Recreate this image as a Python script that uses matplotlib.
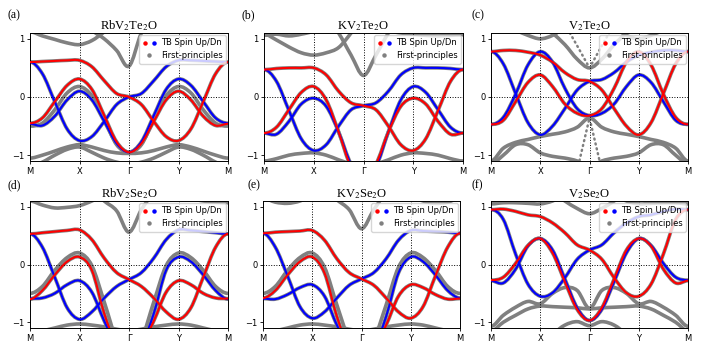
import numpy as np
import matplotlib
matplotlib.use('Agg')
import matplotlib.pyplot as plt
from matplotlib.lines import Line2D
from matplotlib.legend_handler import HandlerTuple
from matplotlib.path import Path
from matplotlib.patches import PathPatch

plt.rcParams['mathtext.fontset'] = 'stix'

# k path M-X-G-Y-M, sampled at quarter segments
k = np.linspace(0, 4, 17)
kticks = [0, 1, 2, 3, 4]
klabels = ['M', 'X', 'Γ', 'Y', 'M']
nan = np.nan
off = 2.0  # outside the window

# ---- (a) RbV2Te2O ----
a_up1 = [0.60, 0.61, 0.62, 0.63, 0.63, 0.52, 0.28, 0.06, 0.00, -0.13, -0.42, -0.68, -0.75, -0.55, -0.08, 0.40, 0.60]
a_dn1 = [0.60, 0.40, -0.08, -0.55, -0.75, -0.68, -0.42, -0.13, 0.00, 0.06, 0.28, 0.52, 0.63, 0.63, 0.62, 0.61, 0.60]
a_up2 = [-0.45, -0.36, -0.08, 0.20, 0.31, 0.13, -0.32, -0.77, -0.95, -0.80, -0.42, -0.05, 0.10, -0.05, -0.33, -0.49, -0.46]
a_dn2 = [-0.46, -0.49, -0.33, -0.05, 0.10, -0.05, -0.42, -0.80, -0.95, -0.77, -0.32, 0.13, 0.31, 0.20, -0.08, -0.36, -0.45]
a_fp1 = [1.12, 1.05, 0.99, 0.93, 0.90, 0.97, 1.12, 1.30, 1.40, 1.40, 1.40, 1.40, 1.40, 1.40, 1.40, 1.40, 1.40]
a_fp2 = [off, off, off, off, 1.40, 1.15, 1.00, 0.80, 0.53, 1.10, 1.40, off, off, off, off, off, off]
a_fp3 = [-1.05, -1.00, -0.93, -0.86, -0.82, -0.86, -0.92, -0.96, -0.97, -0.96, -0.92, -0.86, -0.82, -0.86, -0.93, -1.00, -1.05]
a_fp4 = [-1.20, -1.12, -1.00, -0.90, -0.86, -0.95, -1.05, -1.12, -1.15, -1.12, -1.05, -0.95, -0.86, -0.90, -1.00, -1.12, -1.20]
a_fp5 = [-0.50, -0.45, -0.22, 0.07, 0.18, 0.02, -0.38, -0.82, -0.95, -0.82, -0.38, 0.02, 0.18, 0.07, -0.22, -0.45, -0.50]

# ---- (b) KV2Te2O ----
b_up1 = [0.47, 0.49, 0.50, 0.50, 0.50, 0.38, 0.10, -0.10, -0.15, -0.22, -0.50, -0.82, -0.92, -0.72, -0.23, 0.27, 0.47]
b_dn1 = [0.47, 0.27, -0.23, -0.72, -0.92, -0.82, -0.50, -0.22, -0.15, -0.10, 0.10, 0.38, 0.50, 0.50, 0.50, 0.49, 0.47]
b_up2 = [-0.62, -0.52, -0.22, 0.08, 0.18, -0.05, -0.60, -1.20, -1.35, -1.15, -0.60, -0.16, -0.02, -0.12, -0.42, -0.64, -0.62]
b_dn2 = [-0.62, -0.64, -0.42, -0.12, -0.02, -0.16, -0.60, -1.15, -1.35, -1.20, -0.60, -0.05, 0.18, 0.08, -0.22, -0.52, -0.62]
b_fp1 = [1.06, 1.08, 1.05, 1.08, 1.15, 1.40, off, off, off, off, off, off, off, off, off, off, off]
b_fp2 = [1.08, 0.98, 0.86, 0.76, 0.72, 0.76, 0.85, 1.10, 1.40, off, off, off, off, off, off, off, off]
b_fp3 = [off, off, off, off, 1.60, 1.40, 1.10, 0.72, 0.37, 0.72, 1.10, 1.40, 1.60, off, off, off, off]
b_fp4 = [off, off, off, off, off, off, off, off, 1.50, 1.30, 1.15, 1.10, 1.08, 1.06, 1.05, 1.06, 1.07]
b_fp5 = [-1.10, -1.06, -1.00, -0.97, -0.96, -1.00, -1.08, -1.15, -1.20, -1.15, -1.08, -1.00, -0.96, -0.97, -1.00, -1.06, -1.10]

# ---- (c) V2Te2O ----
c_up1 = [0.78, 0.80, 0.80, 0.77, 0.72, 0.60, 0.42, 0.30, 0.27, 0.12, -0.20, -0.50, -0.65, -0.44, 0.06, 0.57, 0.78]
c_dn1 = [0.78, 0.57, 0.06, -0.44, -0.65, -0.50, -0.20, 0.12, 0.27, 0.30, 0.42, 0.60, 0.72, 0.77, 0.80, 0.80, 0.78]
c_up2 = [-0.47, -0.40, -0.08, 0.25, 0.38, 0.18, -0.12, -0.28, -0.32, -0.20, 0.15, 0.60, 0.78, 0.55, 0.05, -0.35, -0.47]
c_dn2 = [-0.47, -0.35, 0.05, 0.55, 0.78, 0.60, 0.15, -0.20, -0.32, -0.28, -0.12, 0.18, 0.38, 0.25, -0.08, -0.40, -0.47]
c_fp1 = [1.30, 1.25, 1.15, 1.06, 1.00, 1.06, 1.20, 1.35, 1.50, 1.35, 1.20, 1.06, 1.00, 1.06, 1.15, 1.25, 1.30]
c_fp2 = [off, off, off, off, 1.30, 1.10, 0.90, 0.65, 0.50, 0.65, 0.90, 1.10, 1.30, off, off, off, off]
c_fp3 = [-1.10, -0.88, -0.78, -0.73, -0.68, -0.64, -0.60, -0.52, -0.36, -0.52, -0.60, -0.64, -0.68, -0.73, -0.78, -0.88, -1.10]
c_fp4 = [-1.15, -1.00, -0.82, -0.82, -0.96, -1.02, -1.05, -1.10, -1.20, -1.10, -1.05, -1.02, -0.96, -0.82, -0.82, -1.00, -1.15]
c_dot1 = [nan, nan, nan, nan, nan, nan, 1.25, 0.88, 0.50, 0.88, 1.25, nan, nan, nan, nan, nan, nan]
c_dot2 = [nan, nan, nan, nan, nan, nan, nan, -1.26, -0.36, -1.26, nan, nan, nan, nan, nan, nan, nan]

# ---- (d) RbV2Se2O ----
d_up1 = [0.53, 0.55, 0.57, 0.59, 0.60, 0.43, 0.11, -0.14, -0.26, -0.38, -0.58, -0.82, -0.95, -0.75, -0.22, 0.30, 0.53]
d_dn1 = [0.53, 0.30, -0.22, -0.75, -0.95, -0.82, -0.58, -0.38, -0.26, -0.14, 0.11, 0.43, 0.60, 0.59, 0.57, 0.55, 0.53]
d_up2 = [-0.60, -0.45, -0.18, 0.05, 0.13, -0.10, -0.85, -1.40, -1.60, -1.40, -0.98, -0.48, -0.28, -0.35, -0.50, -0.58, -0.59]
d_dn2 = [-0.59, -0.58, -0.50, -0.35, -0.28, -0.48, -0.98, -1.40, -1.60, -1.40, -0.85, -0.10, 0.13, 0.05, -0.18, -0.45, -0.60]
d_fp1 = [1.10, 1.03, 0.98, 0.99, 1.02, 1.10, 1.20, 1.30, 1.40, 1.40, 1.35, 1.30, 1.25, 1.15, 1.10, 1.08, 1.07]
d_fp2 = [off, off, off, off, 1.50, 1.30, 1.10, 0.93, 0.56, 0.95, 1.25, 1.50, off, off, off, off, off]
d_fp3 = [-1.20, -1.15, -1.10, -1.05, -1.03, -1.05, -1.08, -1.12, -1.15, -1.12, -1.08, -1.05, -1.03, -1.05, -1.10, -1.15, -1.20]
d_fp4 = [-0.50, -0.38, -0.10, 0.12, 0.20, -0.02, -0.65, -1.30, -1.50, -1.30, -0.65, -0.02, 0.20, 0.12, -0.10, -0.38, -0.50]

# ---- (e) KV2Se2O ----
e_up1 = [0.54, 0.56, 0.57, 0.58, 0.59, 0.42, 0.10, -0.14, -0.25, -0.36, -0.58, -0.82, -0.93, -0.73, -0.20, 0.30, 0.54]
e_dn1 = [0.54, 0.30, -0.20, -0.73, -0.93, -0.82, -0.58, -0.36, -0.25, -0.14, 0.10, 0.42, 0.59, 0.58, 0.57, 0.56, 0.54]
e_up2 = [-0.58, -0.45, -0.18, 0.05, 0.13, -0.15, -0.90, -1.45, -1.60, -1.45, -1.05, -0.55, -0.35, -0.40, -0.52, -0.60, -0.59]
e_dn2 = [-0.59, -0.60, -0.52, -0.40, -0.35, -0.55, -1.05, -1.45, -1.60, -1.45, -0.90, -0.15, 0.13, 0.05, -0.18, -0.45, -0.58]
e_fp1 = [1.15, 1.08, 1.06, 1.10, 1.20, 1.30, 1.40, 1.50, 1.60, 1.50, 1.40, 1.30, 1.20, 1.10, 1.06, 1.08, 1.15]
e_fp2 = [off, off, off, off, 1.50, 1.30, 1.12, 0.95, 0.62, 0.95, 1.25, 1.50, off, off, off, off, off]
e_fp3 = [-1.20, -1.15, -1.10, -1.05, -1.03, -1.05, -1.08, -1.12, -1.15, -1.12, -1.08, -1.05, -1.03, -1.05, -1.10, -1.15, -1.20]
e_fp4 = [-0.50, -0.38, -0.10, 0.12, 0.20, -0.05, -0.70, -1.30, -1.50, -1.30, -0.70, -0.05, 0.20, 0.12, -0.10, -0.38, -0.50]

# ---- (f) V2Se2O ----
f_up1 = [0.95, 0.96, 0.92, 0.86, 0.83, 0.72, 0.55, 0.34, 0.25, 0.09, -0.23, -0.49, -0.55, -0.34, 0.18, 0.78, 0.95]
f_dn1 = [0.95, 0.78, 0.18, -0.34, -0.55, -0.49, -0.23, 0.09, 0.25, 0.34, 0.55, 0.72, 0.83, 0.86, 0.92, 0.96, 0.95]
f_up2 = [-0.27, -0.22, 0.02, 0.33, 0.45, 0.20, -0.30, -0.78, -0.97, -0.75, -0.25, 0.25, 0.45, 0.32, -0.08, -0.32, -0.28]
f_dn2 = [-0.28, -0.32, -0.08, 0.32, 0.45, 0.25, -0.25, -0.75, -0.97, -0.78, -0.30, 0.20, 0.45, 0.33, 0.02, -0.22, -0.27]
f_fp1 = [1.05, 1.07, 1.07, 1.06, 1.05, 1.10, 1.20, 1.30, 1.40, 1.30, 1.20, 1.10, 1.05, 1.06, 1.07, 1.07, 1.05]
f_fp2 = [off, off, off, off, 1.40, 1.25, 1.10, 0.97, 0.88, 0.97, 1.10, 1.25, 1.40, off, off, off, off]
f_fp3 = [-1.07, -0.88, -0.74, -0.64, -0.68, -0.50, -0.40, -0.45, -0.76, -0.45, -0.40, -0.50, -0.68, -0.64, -0.74, -0.88, -1.07]
f_fp4 = [-1.15, -1.00, -0.88, -0.77, -0.72, -0.73, -0.74, -0.75, -0.77, -0.75, -0.74, -0.73, -0.72, -0.77, -0.88, -1.00, -1.15]
f_fp5 = [nan, nan, nan, nan, -1.30, -1.20, -1.05, -0.99, -1.06, -0.99, -1.05, -1.20, -1.30, nan, nan, nan, nan]

panels = [
    ('(a)', 'RbV$_2$Te$_2$O', [a_up1, a_up2], [a_dn1, a_dn2], [a_fp1, a_fp2, a_fp3, a_fp4, a_fp5], []),
    ('(b)', 'KV$_2$Te$_2$O', [b_up1, b_up2], [b_dn1, b_dn2], [b_fp1, b_fp2, b_fp3, b_fp4, b_fp5], []),
    ('(c)', 'V$_2$Te$_2$O', [c_up1, c_up2], [c_dn1, c_dn2], [c_fp1, c_fp2, c_fp3, c_fp4], [c_dot1, c_dot2]),
    ('(d)', 'RbV$_2$Se$_2$O', [d_up1, d_up2], [d_dn1, d_dn2], [d_fp1, d_fp2, d_fp3, d_fp4], []),
    ('(e)', 'KV$_2$Se$_2$O', [e_up1, e_up2], [e_dn1, e_dn2], [e_fp1, e_fp2, e_fp3, e_fp4], []),
    ('(f)', 'V$_2$Se$_2$O', [f_up1, f_up2], [f_dn1, f_dn2], [f_fp1, f_fp2, f_fp3, f_fp4, f_fp5], []),
]

# axes boxes in pixels (left, top, right, bottom) and label spots
W, H = 714, 358
boxes = [(30, 33, 228, 161), (264, 33, 463, 161), (491, 33, 688, 161),
         (30, 201, 228, 328), (263, 201, 460, 328), (491, 201, 688, 328)]
labpos = [(7, 15), (241, 15), (472, 15), (7, 185), (247, 185), (472, 185)]

GRAY = '#808080'
RED = '#ff0000'
BLUE = '#0000ff'


def band_path(x, y):
    # smooth curve through the sampled points (cubic bezier, catmull-rom tangents)
    x = np.asarray(x, float)
    y = np.asarray(y, float)
    idx = np.where(~np.isnan(y))[0]
    runs = np.split(idx, np.where(np.diff(idx) > 1)[0] + 1)
    verts, codes = [], []
    for r in runs:
        if len(r) < 2:
            continue
        px, py = list(x[r]), list(y[r])
        # mirror the neighbours at the ends (flat bands at the zone boundary)
        px = [2 * px[0] - px[1]] + px + [2 * px[-1] - px[-2]]
        py = [py[1]] + py + [py[-2]]
        verts.append((px[1], py[1]))
        codes.append(Path.MOVETO)
        for i in range(1, len(px) - 2):
            c1 = (px[i] + (px[i + 1] - px[i - 1]) / 6, py[i] + (py[i + 1] - py[i - 1]) / 6)
            c2 = (px[i + 1] - (px[i + 2] - px[i]) / 6, py[i + 1] - (py[i + 2] - py[i]) / 6)
            verts += [c1, c2, (px[i + 1], py[i + 1])]
            codes += [Path.CURVE4] * 3
    return Path(verts, codes)


def draw_band(ax, y, color, lw, z):
    ax.add_patch(PathPatch(band_path(k, y), fill=False, edgecolor=color, lw=lw,
                           capstyle='round', joinstyle='round', zorder=z))


fig = plt.figure(figsize=(W / 100, H / 100), dpi=100)

for (lab, title, ups, dns, fps, dots), (x0, y0, x1, y1), (lx, ly) in zip(panels, boxes, labpos):
    ax = fig.add_axes([x0 / W, 1 - y1 / H, (x1 - x0) / W, (y1 - y0) / H])
    # first-principles (gray) under everything
    for g in fps + ups + dns:
        draw_band(ax, g, GRAY, 2.6, 1)
    for g in dots:
        ax.plot(k, g, color=GRAY, lw=1.8, ls=(0, (0.4, 1.6)), dash_capstyle='round', zorder=1)
    for u in dns:
        draw_band(ax, u, BLUE, 1.5, 3)
    for u in ups:
        draw_band(ax, u, RED, 1.5, 3)

    for kk in kticks[1:-1]:
        ax.axvline(kk, color='k', ls=':', lw=0.7, zorder=2)
    ax.axhline(0, color='k', ls=':', lw=0.7, zorder=2)

    ax.set_xlim(0, 4)
    ax.set_ylim(-1.1, 1.1)
    ax.set_xticks(kticks, klabels)
    ax.set_yticks([-1, 0, 1], ['\u22121', '0', '1'])
    ax.tick_params(labelsize=6, length=2.5, width=0.6, pad=1.5)
    for s in ax.spines.values():
        s.set_linewidth(0.7)
    ax.set_title(title, fontsize=9, family='Liberation Serif', pad=3)
    fig.text(lx / W, 1 - ly / H, lab, family='Liberation Serif', fontsize=8.5, va='center')

    hup = Line2D([], [], marker='o', color=RED, ls='none', ms=2.2)
    hdn = Line2D([], [], marker='o', color=BLUE, ls='none', ms=2.2)
    hfp = Line2D([], [], marker='o', color=GRAY, ls='none', ms=2.2)
    leg = ax.legend([(hup, hdn), hfp], ['TB Spin Up/Dn', 'First-principles'],
                    handler_map={tuple: HandlerTuple(ndivide=None, pad=0.6)},
                    loc='upper right', fontsize=6, borderaxespad=0.25, borderpad=0.4,
                    handlelength=1.6, handletextpad=0.6, labelspacing=0.45, framealpha=0.8)
    leg.set_zorder(5)

fig.savefig('out.png', dpi=100)
